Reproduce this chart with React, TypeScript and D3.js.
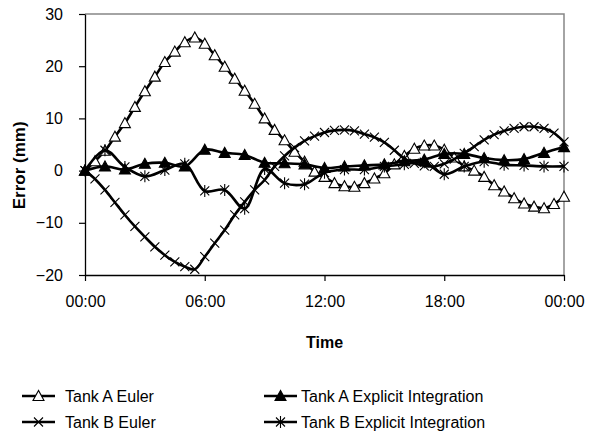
import React, { useEffect, useRef } from 'react';
import * as d3 from 'd3';

// time in hours, Euler runs every half hour, explicit runs every hour
const halfHours = [0, 0.5, 1, 1.5, 2, 2.5, 3, 3.5, 4, 4.5, 5, 5.5, 6, 6.5, 7, 7.5, 8, 8.5, 9, 9.5, 10, 10.5, 11, 11.5,
  12, 12.5, 13, 13.5, 14, 14.5, 15, 15.5, 16, 16.5, 17, 17.5, 18, 18.5, 19, 19.5, 20, 20.5, 21, 21.5, 22, 22.5, 23, 23.5, 24];
const hours = [0, 1, 2, 3, 4, 5, 6, 7, 8, 9, 10, 11, 12, 13, 14, 15, 16, 17, 18, 19, 20, 21, 22, 23, 24];

const tankAEuler = [0, 1.8, 3.8, 6.5, 9.1, 12.2, 15.2, 18.0, 20.8, 22.8, 24.6, 25.5, 24.3, 22.1, 19.9, 17.6, 15.3, 12.8,
  10.0, 7.8, 5.8, 3.6, 1.7, -0.2, -1.2, -2.4, -3.0, -3.1, -2.4, -1.5, -0.5, 1.2, 2.8, 4.2, 4.8, 4.8, 4.0, 2.5,
  0.8, 0.0, -1.2, -2.8, -4.0, -5.3, -6.3, -6.9, -7.2, -6.4, -5.0];
const tankBEuler = [0, -1.6, -3.7, -6.1, -8.5, -10.7, -12.7, -14.6, -16.2, -17.5, -18.4, -18.9, -16.5, -13.9, -11.4, -8.5,
  -6.0, -3.7, -1.8, 0.8, 2.8, 4.4, 5.7, 6.6, 7.3, 7.7, 7.8, 7.6, 7.0, 6.4, 5.4, 3.9, 2.3, 1.4, 0.9, 0.8, 1.3, 2.2,
  3.3, 4.6, 5.9, 6.9, 7.6, 8.1, 8.4, 8.4, 8.1, 7.2, 5.5];
const tankAExplicit = [0, 0.8, 0.2, 1.3, 1.5, 0.8, 4.0, 3.4, 3.0, 1.5, 1.4, 1.2, 0.5, 0.8, 1.0, 1.2, 1.8, 2.1, 3.2, 3.2,
  2.4, 2.0, 2.2, 3.4, 4.5];
const tankBExplicit = [0, 3.9, 0.7, -1.1, 0.1, 1.3, -3.9, -3.7, -7.3, 0.3, -2.4, -2.6, -0.4, 0.2, 0.2, 0.8, 1.2, 1.6,
  -0.7, 0.8, 1.7, 1.1, 1.0, 0.8, 0.8];

const yTicks = [-20, -10, 0, 10, 20, 30];
const xTicks = [0, 6, 12, 18, 24];
const xTickLabels = ['00:00', '06:00', '12:00', '18:00', '00:00'];
const seriesNames = ['Tank A Euler', 'Tank A Explicit Integration', 'Tank B Euler', 'Tank B Explicit Integration'];

const font = 'Arial, "Liberation Sans", sans-serif';

const markerPath = (type: string, cx: number, cy: number) => {
  if (type === 'tri') return `M${cx},${cy - 5.5}L${cx - 5.5},${cy + 4.5}L${cx + 5.5},${cy + 4.5}Z`;
  const d = 4.5;
  let p = `M${cx - d},${cy - d}L${cx + d},${cy + d}M${cx - d},${cy + d}L${cx + d},${cy - d}`;
  if (type === 'star') p += `M${cx},${cy - 6}L${cx},${cy + 6}`;
  return p;
};

const App = () => {
  const ref = useRef<SVGSVGElement>(null);

  useEffect(() => {
    const svgWidth = 592;
    const svgHeight = 442;
    const margin = { top: 14, right: 28, bottom: 167, left: 85 };

    const x = d3.scaleLinear().domain([0, 24]).range([margin.left, svgWidth - margin.right]);
    const y = d3.scaleLinear().domain([-20, 30]).range([svgHeight - margin.bottom, margin.top]);

    const svg = d3.select(ref.current);
    svg.selectAll('*').remove();

    // grey frame on top and right
    svg.append('path')
      .attr('d', `M${x(0)},${y(30)}H${x(24)}V${y(-20)}`)
      .attr('fill', 'none')
      .attr('stroke', '#868686')
      .attr('stroke-width', 1.5);

    const yAxis = svg.append('g')
      .attr('transform', `translate(${x(0)},0)`)
      .call(d3.axisLeft(y).tickValues(yTicks).tickSize(6).tickSizeOuter(0).tickPadding(16));
    const xAxis = svg.append('g')
      .attr('transform', `translate(0,${y(-20)})`)
      .call(d3.axisBottom(x).tickValues(xTicks).tickSize(6).tickSizeOuter(0).tickPadding(15)
        .tickFormat((d, i) => xTickLabels[i]));

    [yAxis, xAxis].forEach(g => {
      g.select('.domain').attr('stroke', '#000').attr('stroke-width', 1.3);
      g.selectAll('.tick line').attr('stroke', '#000').attr('stroke-width', 1.2);
      g.selectAll('.tick text').attr('fill', '#000').attr('font-size', 16).attr('font-family', font);
    });

    svg.append('text')
      .attr('transform', `translate(${19 + 6},${y(1)}) rotate(-90)`)
      .attr('text-anchor', 'middle')
      .attr('font-family', font)
      .attr('font-weight', 'bold')
      .attr('font-size', 17)
      .text('Error (mm)');

    svg.append('text')
      .attr('x', (x(0) + x(24)) / 2)
      .attr('y', 348)
      .attr('text-anchor', 'middle')
      .attr('font-family', font)
      .attr('font-weight', 'bold')
      .attr('font-size', 16)
      .text('Time');

    const series = [
      { xs: halfHours, ys: tankAEuler, marker: 'tri', fill: '#fff' },
      { xs: hours, ys: tankAExplicit, marker: 'tri', fill: '#000' },
      { xs: halfHours, ys: tankBEuler, marker: 'x', fill: 'none' },
      { xs: hours, ys: tankBExplicit, marker: 'star', fill: 'none' },
    ];

    const line = d3.line<[number, number]>()
      .x(d => x(d[0]))
      .y(d => y(d[1]))
      .curve(d3.curveCatmullRom.alpha(0.5));

    const plot = svg.append('g');
    series.forEach(s => {
      const pts = s.xs.map((h, i) => [h, s.ys[i]] as [number, number]);
      plot.append('path')
        .attr('d', line(pts))
        .attr('fill', 'none')
        .attr('stroke', '#000')
        .attr('stroke-width', 2.6);
      plot.append('g')
        .selectAll('path')
        .data(pts)
        .join('path')
          .attr('d', d => markerPath(s.marker, x(d[0]), y(d[1])))
          .attr('fill', s.fill)
          .attr('stroke', '#000')
          .attr('stroke-width', 1.1);
    });

    // legend, two columns
    const legendCols = [22, 264];
    const legendRows = [396, 422];
    const legend = svg.append('g');
    series.forEach((s, i) => {
      const lx = legendCols[i % 2];
      const ly = legendRows[Math.floor(i / 2)];
      legend.append('line')
        .attr('x1', lx).attr('x2', lx + 33)
        .attr('y1', ly).attr('y2', ly)
        .attr('stroke', '#000').attr('stroke-width', 2.4);
      legend.append('path')
        .attr('d', markerPath(s.marker, lx + 16.5, ly))
        .attr('fill', s.fill)
        .attr('stroke', '#000')
        .attr('stroke-width', 1.1);
      legend.append('text')
        .attr('x', lx + (i % 2 === 0 ? 43 : 37))
        .attr('y', ly + 5.5)
        .attr('font-family', font)
        .attr('font-size', 16)
        .text(seriesNames[i]);
    });
  }, []);

  return (
    <svg ref={ref} width={592} height={442}
      style={{ position: 'absolute', left: 0, top: 0, background: '#fff' }} />
  );
};

export default App;
